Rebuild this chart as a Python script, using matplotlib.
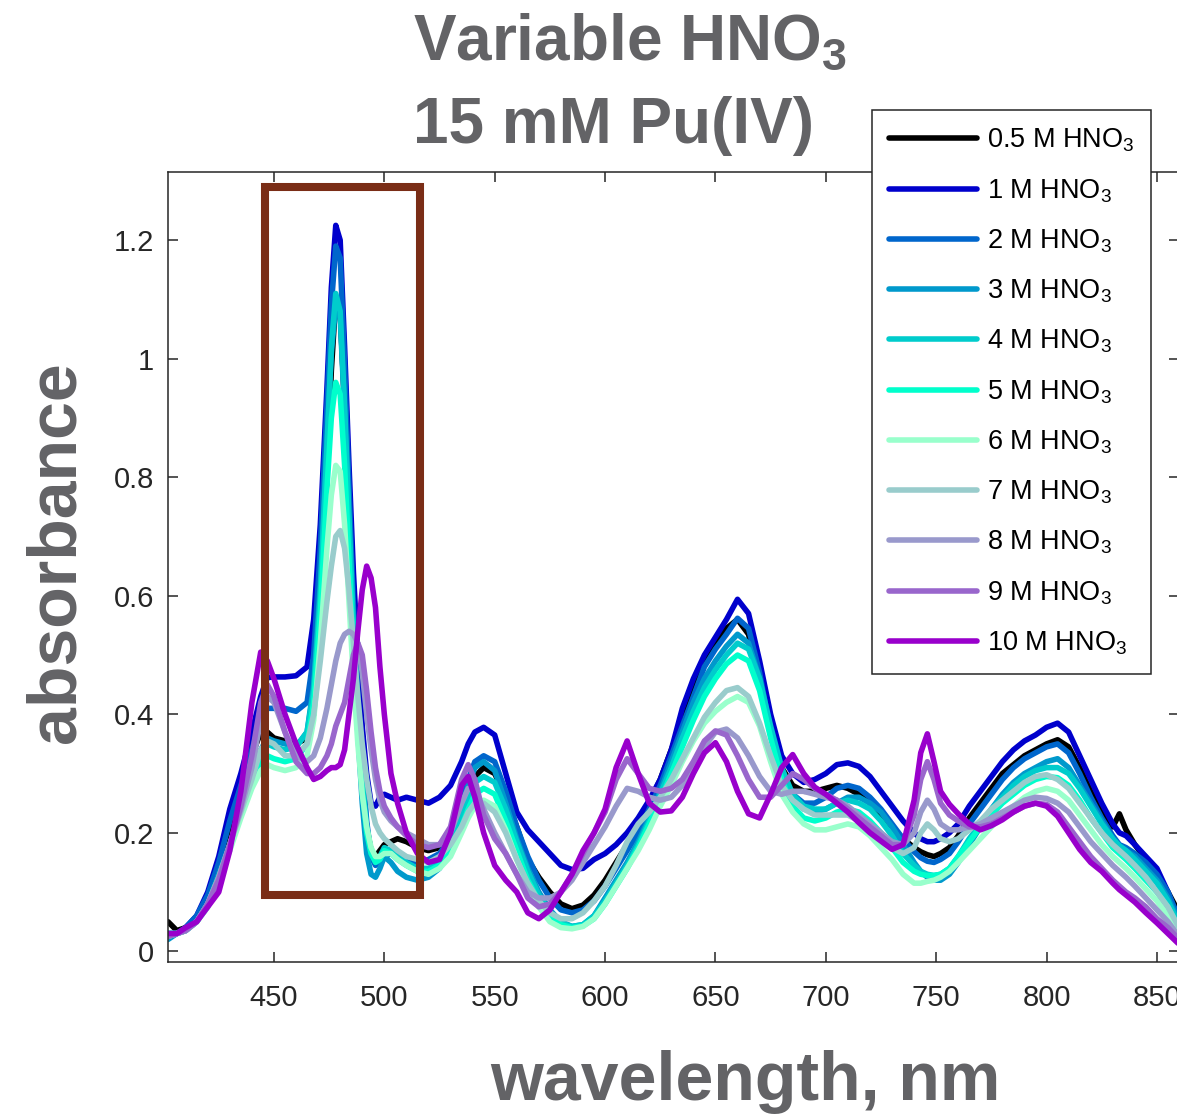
import matplotlib
matplotlib.use('Agg')
import matplotlib.pyplot as plt
from matplotlib.patches import Rectangle

plt.rcParams['font.family'] = ['Liberation Sans', 'DejaVu Sans']
plt.rcParams['mathtext.fontset'] = 'custom'
plt.rcParams['mathtext.rm'] = 'Liberation Sans'
plt.rcParams['mathtext.bf'] = 'Liberation Sans:bold'
plt.rcParams['mathtext.default'] = 'regular'

# wavelength grid (nm), shared by all spectra
wl = [402, 406, 410, 415, 420, 425, 430, 435, 440, 444,
      447, 450, 455, 460, 465, 468, 471, 474, 476, 478,
      480, 482, 484, 486, 488, 490, 492, 494, 496, 498,
      500, 503, 506, 510, 515, 520, 525, 530, 535, 538,
      541, 545, 550, 555, 560, 565, 570, 575, 580, 585,
      590, 595, 600, 605, 610, 615, 620, 625, 630, 635,
      640, 645, 650, 655, 660, 665, 670, 675, 680, 685,
      690, 695, 700, 705, 710, 715, 720, 725, 730, 735,
      740, 743, 746, 749, 752, 756, 760, 765, 770, 775,
      780, 785, 790, 795, 800, 805, 810, 815, 820, 825,
      830, 833, 836, 840, 845, 850, 855, 860]

# absorbance
a05 = [0.05, 0.035, 0.04, 0.055, 0.09, 0.14, 0.21, 0.27, 0.33, 0.37,
       0.37, 0.36, 0.355, 0.35, 0.36, 0.40, 0.55, 0.80, 0.98, 1.10,
       1.08, 0.92, 0.70, 0.52, 0.38, 0.28, 0.21, 0.17, 0.16, 0.17,
       0.18, 0.185, 0.19, 0.185, 0.175, 0.17, 0.175, 0.19, 0.235, 0.27,
       0.295, 0.31, 0.30, 0.26, 0.21, 0.155, 0.125, 0.10, 0.08, 0.072,
       0.078, 0.095, 0.12, 0.15, 0.18, 0.215, 0.25, 0.29, 0.34, 0.39,
       0.44, 0.49, 0.52, 0.545, 0.56, 0.535, 0.45, 0.37, 0.31, 0.28,
       0.27, 0.27, 0.275, 0.28, 0.275, 0.265, 0.25, 0.23, 0.21, 0.19,
       0.175, 0.168, 0.163, 0.16, 0.165, 0.175, 0.195, 0.225, 0.25, 0.275,
       0.30, 0.315, 0.33, 0.34, 0.35, 0.357, 0.345, 0.31, 0.27, 0.235,
       0.21, 0.232, 0.205, 0.18, 0.155, 0.13, 0.10, 0.065]
a1 = [0.03, 0.03, 0.04, 0.06, 0.10, 0.16, 0.24, 0.30, 0.37, 0.43,
      0.462, 0.463, 0.463, 0.465, 0.48, 0.56, 0.72, 0.95, 1.12, 1.225,
      1.20, 1.02, 0.82, 0.64, 0.50, 0.38, 0.30, 0.25, 0.245, 0.26,
      0.265, 0.26, 0.255, 0.26, 0.255, 0.25, 0.26, 0.28, 0.32, 0.35,
      0.37, 0.378, 0.365, 0.30, 0.235, 0.205, 0.185, 0.165, 0.145, 0.138,
      0.14, 0.155, 0.165, 0.18, 0.20, 0.225, 0.255, 0.29, 0.34, 0.41,
      0.46, 0.50, 0.53, 0.56, 0.594, 0.57, 0.49, 0.40, 0.33, 0.30,
      0.285, 0.29, 0.30, 0.315, 0.318, 0.312, 0.295, 0.27, 0.245, 0.22,
      0.20, 0.19, 0.185, 0.185, 0.19, 0.20, 0.215, 0.245, 0.27, 0.295,
      0.32, 0.34, 0.355, 0.365, 0.378, 0.385, 0.37, 0.33, 0.29, 0.25,
      0.215, 0.20, 0.195, 0.18, 0.16, 0.14, 0.10, 0.05]
a2 = [0.03, 0.03, 0.04, 0.06, 0.095, 0.15, 0.22, 0.28, 0.34, 0.39,
      0.41, 0.41, 0.41, 0.405, 0.42, 0.50, 0.68, 0.92, 1.09, 1.19,
      1.17, 0.99, 0.78, 0.58, 0.43, 0.32, 0.22, 0.16, 0.145, 0.15,
      0.16, 0.165, 0.16, 0.155, 0.15, 0.155, 0.165, 0.19, 0.25, 0.29,
      0.32, 0.33, 0.32, 0.27, 0.21, 0.16, 0.12, 0.09, 0.07, 0.065,
      0.07, 0.085, 0.11, 0.14, 0.17, 0.20, 0.24, 0.28, 0.33, 0.38,
      0.43, 0.48, 0.51, 0.535, 0.562, 0.545, 0.47, 0.37, 0.30, 0.265,
      0.25, 0.25, 0.26, 0.275, 0.28, 0.275, 0.26, 0.24, 0.215, 0.19,
      0.168, 0.158, 0.152, 0.15, 0.155, 0.165, 0.185, 0.215, 0.24, 0.265,
      0.29, 0.31, 0.325, 0.335, 0.345, 0.35, 0.335, 0.30, 0.26, 0.225,
      0.195, 0.18, 0.175, 0.165, 0.15, 0.13, 0.10, 0.055]
a3 = [0.02, 0.03, 0.035, 0.05, 0.08, 0.13, 0.18, 0.23, 0.29, 0.34,
      0.36, 0.355, 0.35, 0.345, 0.37, 0.45, 0.62, 0.86, 1.01, 1.09,
      1.07, 0.91, 0.71, 0.52, 0.37, 0.25, 0.165, 0.13, 0.125, 0.14,
      0.16, 0.15, 0.135, 0.125, 0.12, 0.125, 0.14, 0.175, 0.24, 0.28,
      0.31, 0.32, 0.305, 0.25, 0.19, 0.14, 0.10, 0.07, 0.05, 0.042,
      0.045, 0.06, 0.09, 0.12, 0.15, 0.185, 0.225, 0.27, 0.32, 0.37,
      0.42, 0.46, 0.49, 0.515, 0.535, 0.52, 0.46, 0.37, 0.30, 0.26,
      0.24, 0.235, 0.24, 0.25, 0.26, 0.26, 0.25, 0.235, 0.21, 0.18,
      0.15, 0.135, 0.125, 0.12, 0.12, 0.13, 0.15, 0.18, 0.21, 0.24,
      0.265, 0.285, 0.30, 0.31, 0.32, 0.325, 0.31, 0.28, 0.25, 0.22,
      0.19, 0.178, 0.17, 0.16, 0.14, 0.12, 0.09, 0.05]
a4 = [0.03, 0.03, 0.035, 0.05, 0.08, 0.125, 0.18, 0.235, 0.29, 0.33,
      0.35, 0.345, 0.34, 0.345, 0.37, 0.44, 0.60, 0.85, 1.02, 1.11,
      1.08, 0.92, 0.73, 0.55, 0.40, 0.29, 0.21, 0.17, 0.155, 0.16,
      0.175, 0.17, 0.16, 0.15, 0.14, 0.14, 0.15, 0.18, 0.23, 0.26,
      0.285, 0.295, 0.285, 0.24, 0.185, 0.135, 0.095, 0.065, 0.048, 0.042,
      0.045, 0.06, 0.085, 0.115, 0.145, 0.18, 0.22, 0.265, 0.31, 0.36,
      0.405, 0.445, 0.475, 0.50, 0.52, 0.51, 0.46, 0.38, 0.31, 0.265,
      0.245, 0.24, 0.24, 0.25, 0.255, 0.25, 0.24, 0.22, 0.195, 0.165,
      0.145, 0.135, 0.13, 0.128, 0.13, 0.14, 0.16, 0.19, 0.215, 0.24,
      0.26, 0.28, 0.295, 0.305, 0.31, 0.31, 0.30, 0.275, 0.245, 0.215,
      0.19, 0.178, 0.17, 0.155, 0.135, 0.115, 0.085, 0.045]
a5 = [0.03, 0.03, 0.035, 0.05, 0.075, 0.12, 0.175, 0.23, 0.28, 0.32,
      0.33, 0.325, 0.32, 0.325, 0.35, 0.42, 0.57, 0.78, 0.90, 0.96,
      0.94, 0.82, 0.66, 0.50, 0.37, 0.27, 0.20, 0.165, 0.15, 0.155,
      0.17, 0.165, 0.155, 0.145, 0.135, 0.135, 0.145, 0.17, 0.21, 0.24,
      0.265, 0.275, 0.265, 0.22, 0.17, 0.12, 0.085, 0.058, 0.045, 0.04,
      0.043, 0.055, 0.08, 0.11, 0.14, 0.175, 0.215, 0.255, 0.30, 0.345,
      0.39, 0.43, 0.46, 0.485, 0.50, 0.49, 0.44, 0.36, 0.29, 0.245,
      0.225, 0.22, 0.225, 0.235, 0.24, 0.235, 0.22, 0.20, 0.175, 0.15,
      0.135, 0.13, 0.128, 0.128, 0.13, 0.14, 0.16, 0.185, 0.21, 0.23,
      0.25, 0.265, 0.28, 0.29, 0.295, 0.293, 0.28, 0.255, 0.225, 0.20,
      0.175, 0.165, 0.155, 0.14, 0.12, 0.10, 0.075, 0.04]
a6 = [0.025, 0.03, 0.035, 0.05, 0.075, 0.12, 0.17, 0.225, 0.275, 0.305,
      0.315, 0.31, 0.305, 0.31, 0.33, 0.39, 0.52, 0.68, 0.77, 0.82,
      0.81, 0.72, 0.59, 0.46, 0.35, 0.265, 0.21, 0.175, 0.16, 0.16,
      0.165, 0.165, 0.155, 0.145, 0.135, 0.13, 0.14, 0.16, 0.20, 0.225,
      0.245, 0.255, 0.245, 0.205, 0.155, 0.11, 0.075, 0.05, 0.04, 0.038,
      0.042, 0.055, 0.08, 0.11, 0.14, 0.17, 0.205, 0.245, 0.28, 0.32,
      0.355, 0.385, 0.405, 0.42, 0.43, 0.42, 0.38, 0.32, 0.265, 0.235,
      0.215, 0.205, 0.205, 0.21, 0.215, 0.21, 0.195, 0.175, 0.155, 0.13,
      0.115, 0.115, 0.118, 0.12, 0.125, 0.135, 0.15, 0.17, 0.19, 0.21,
      0.23, 0.245, 0.26, 0.27, 0.275, 0.27, 0.255, 0.23, 0.205, 0.18,
      0.16, 0.15, 0.14, 0.125, 0.105, 0.085, 0.06, 0.03]
a7 = [0.03, 0.03, 0.035, 0.05, 0.08, 0.125, 0.18, 0.235, 0.29, 0.34,
      0.355, 0.35, 0.33, 0.33, 0.35, 0.40, 0.49, 0.59, 0.65, 0.70,
      0.71, 0.68, 0.61, 0.52, 0.43, 0.35, 0.29, 0.245, 0.215, 0.20,
      0.19, 0.18, 0.17, 0.16, 0.155, 0.15, 0.16, 0.18, 0.21, 0.235,
      0.25, 0.25, 0.235, 0.20, 0.155, 0.115, 0.085, 0.065, 0.055, 0.055,
      0.065, 0.085, 0.11, 0.145, 0.185, 0.215, 0.235, 0.26, 0.29, 0.325,
      0.36, 0.395, 0.42, 0.44, 0.445, 0.43, 0.385, 0.33, 0.28, 0.255,
      0.24, 0.23, 0.23, 0.23, 0.23, 0.22, 0.205, 0.19, 0.175, 0.165,
      0.175, 0.20, 0.215, 0.205, 0.19, 0.185, 0.19, 0.205, 0.22, 0.24,
      0.255, 0.27, 0.285, 0.295, 0.298, 0.29, 0.275, 0.25, 0.225, 0.20,
      0.18, 0.17, 0.16, 0.145, 0.125, 0.10, 0.075, 0.04]
a8 = [0.025, 0.03, 0.035, 0.05, 0.08, 0.125, 0.18, 0.24, 0.31, 0.39,
      0.43, 0.42, 0.37, 0.33, 0.32, 0.33, 0.36, 0.41, 0.45, 0.49,
      0.52, 0.535, 0.54, 0.535, 0.52, 0.47, 0.40, 0.34, 0.29, 0.255,
      0.235, 0.22, 0.21, 0.20, 0.19, 0.18, 0.18, 0.20, 0.25, 0.275,
      0.27, 0.24, 0.20, 0.165, 0.13, 0.10, 0.09, 0.09, 0.10, 0.12,
      0.15, 0.18, 0.21, 0.245, 0.275, 0.27, 0.26, 0.255, 0.26, 0.28,
      0.31, 0.345, 0.37, 0.375, 0.36, 0.33, 0.295, 0.27, 0.265, 0.27,
      0.27, 0.265, 0.26, 0.255, 0.245, 0.23, 0.215, 0.20, 0.185, 0.18,
      0.20, 0.235, 0.255, 0.24, 0.215, 0.205, 0.205, 0.21, 0.215, 0.225,
      0.235, 0.245, 0.255, 0.26, 0.258, 0.25, 0.235, 0.21, 0.185, 0.165,
      0.145, 0.135, 0.125, 0.11, 0.09, 0.07, 0.05, 0.025]
a9 = [0.025, 0.03, 0.035, 0.05, 0.08, 0.12, 0.18, 0.245, 0.33, 0.42,
      0.45, 0.43, 0.37, 0.32, 0.30, 0.30, 0.31, 0.33, 0.35, 0.38,
      0.40, 0.42, 0.46, 0.50, 0.52, 0.50, 0.44, 0.37, 0.31, 0.27,
      0.245, 0.225, 0.21, 0.195, 0.18, 0.175, 0.18, 0.21, 0.29, 0.315,
      0.29, 0.23, 0.19, 0.165, 0.13, 0.09, 0.075, 0.08, 0.10, 0.13,
      0.165, 0.20, 0.235, 0.29, 0.325, 0.30, 0.275, 0.27, 0.275, 0.29,
      0.32, 0.355, 0.372, 0.365, 0.33, 0.29, 0.26, 0.26, 0.28, 0.30,
      0.29, 0.275, 0.265, 0.255, 0.24, 0.225, 0.21, 0.195, 0.18, 0.18,
      0.23, 0.29, 0.32, 0.29, 0.25, 0.23, 0.22, 0.21, 0.21, 0.215,
      0.225, 0.235, 0.245, 0.25, 0.248, 0.235, 0.21, 0.185, 0.16, 0.14,
      0.12, 0.11, 0.10, 0.09, 0.075, 0.055, 0.04, 0.02]
a10 = [0.03, 0.03, 0.04, 0.05, 0.075, 0.10, 0.17, 0.27, 0.42, 0.505,
       0.49, 0.46, 0.40, 0.35, 0.31, 0.29, 0.295, 0.305, 0.31, 0.31,
       0.315, 0.34, 0.40, 0.46, 0.54, 0.61, 0.65, 0.63, 0.58, 0.48,
       0.40, 0.30, 0.25, 0.20, 0.165, 0.15, 0.155, 0.20, 0.28, 0.295,
       0.26, 0.20, 0.145, 0.12, 0.10, 0.065, 0.055, 0.07, 0.10, 0.13,
       0.17, 0.20, 0.24, 0.31, 0.355, 0.30, 0.25, 0.235, 0.237, 0.26,
       0.30, 0.335, 0.352, 0.32, 0.27, 0.232, 0.225, 0.265, 0.31, 0.332,
       0.30, 0.277, 0.265, 0.25, 0.235, 0.217, 0.20, 0.186, 0.172, 0.18,
       0.255, 0.335, 0.367, 0.32, 0.27, 0.248, 0.232, 0.215, 0.205, 0.212,
       0.222, 0.235, 0.245, 0.25, 0.245, 0.228, 0.20, 0.172, 0.15, 0.135,
       0.115, 0.104, 0.095, 0.083, 0.065, 0.048, 0.03, 0.012]

spectra = [a05, a1, a2, a3, a4, a5, a6, a7, a8, a9, a10]
conc = ['0.5', '1', '2', '3', '4', '5', '6', '7', '8', '9', '10']
colors = ['#000000', '#0000CC', '#0066CC', '#0099CC', '#00CCCC', '#00FFCC',
          '#99FFCC', '#99CCCC', '#9999CC', '#9966CC', '#9900CC']

xticks = [450, 500, 550, 600, 650, 700, 750, 800, 850]
yticks = [0, 0.2, 0.4, 0.6, 0.8, 1.0, 1.2]
ytick_labels = ['0', '0.2', '0.4', '0.6', '0.8', '1', '1.2']

W, H = 1177, 1119
fig = plt.figure(figsize=(W / 100, H / 100), dpi=100)
ax = fig.add_axes([168 / W, 1 - 962 / H, (1179 - 168) / W, (962 - 172) / H])

for y, c, n in zip(spectra, colors, conc):
    ax.plot(wl, y, color=c, lw=4.0, label=n + ' M HNO$_3$',
            solid_joinstyle='round', solid_capstyle='round')

# highlight box around the 476 nm band
ax.add_patch(Rectangle((446, 0.095), 70, 1.195, fill=False, edgecolor='#7a2d16',
                       lw=5.8, joinstyle='miter', zorder=5))

ax.set_xlim(402, 860)
ax.set_ylim(-0.018, 1.315)
ax.set_xticks(xticks)
ax.set_yticks(yticks)
ax.set_yticklabels(ytick_labels)
ax.tick_params(direction='in', length=7, width=1.1, top=True, right=True,
               labelsize=21, colors='#262626', pad=10)
ax.tick_params(axis='x', pad=16)
for s in ax.spines.values():
    s.set_color('#262626')
    s.set_linewidth(1.1)

leg = ax.legend(loc='upper left', bbox_to_anchor=(872 / W, 1 - 110 / H),
                bbox_transform=fig.transFigure, fontsize=19.5, handlelength=3.25,
                handletextpad=0.37, labelspacing=0.84, borderpad=0.62,
                borderaxespad=0, fancybox=False, framealpha=1,
                edgecolor='#262626')
leg.get_frame().set_linewidth(1.1)

gray = '#636366'
fig.text(413 / W, 1 - 60 / H, 'Variable HNO$_3$', fontsize=46, fontweight='bold',
         color=gray, ha='left', va='baseline')
fig.text(413 / W, 1 - 143 / H, '15 mM Pu(IV)', fontsize=46, fontweight='bold',
         color=gray, ha='left', va='baseline')
fig.text(490 / W, 1 - 1100 / H, 'wavelength, nm', fontsize=49, fontweight='bold',
         color=gray, ha='left', va='baseline')
fig.text(57 / W, 1 - 552 / H, 'absorbance', fontsize=49, fontweight='bold',
         color=gray, ha='center', va='center', rotation=90)

fig.savefig('out.png', dpi=100)
